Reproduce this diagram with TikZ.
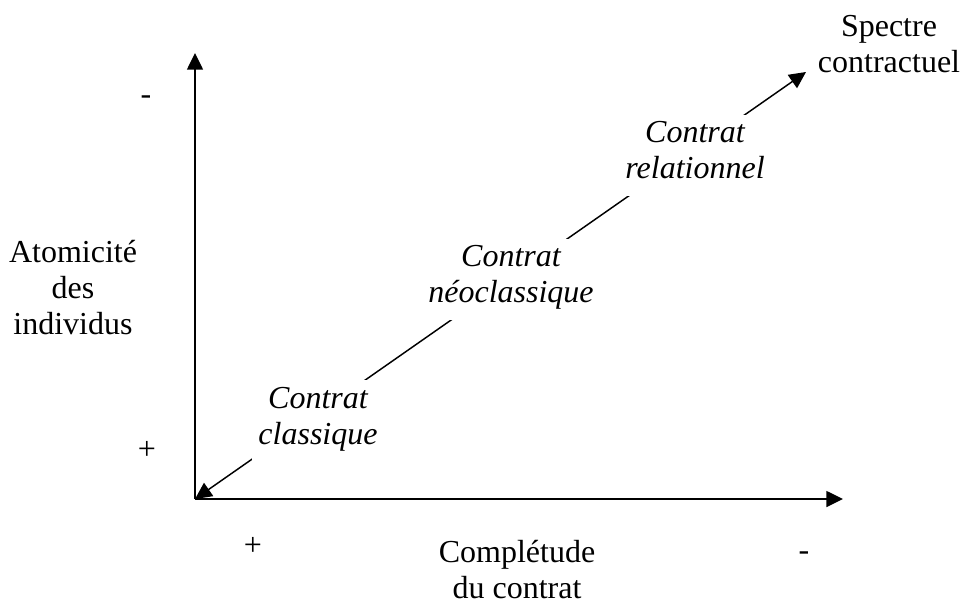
\documentclass[tikz,border=0pt]{standalone}
\usepackage{fontspec}
\setmainfont{Liberation Serif}
\usetikzlibrary{arrows.meta}

\tikzset{every picture/.style={line width=0.75pt}}
\tikzset{
  tip/.tip={Triangle[length=12.5pt,width=12pt]},
  axis/.style={line width=1.1pt,-tip},
  txt/.style={inner sep=0pt,align=center,font=\fontsize{24}{27}\selectfont},
  stage/.style={txt,font=\fontsize{24}{27}\selectfont\itshape,fill=white,inner sep=5pt}
}

\begin{document}
\begin{tikzpicture}[x=0.75pt,y=0.75pt,yscale=-1,xscale=1]
\useasboundingbox (0,0) rectangle (962,606);

%Coordinates [origin and arrow tips]
\coordinate (O) at (195,499);
\coordinate (ytip) at (195,53);
\coordinate (xtip) at (843,499);
\coordinate (stip) at (806,72);

%Straight Lines [axes]
\draw [axis] (O) -- (ytip);
\draw [axis] (O) -- (xtip);
%Straight Lines [spectre]
\draw [axis,tip-tip] (O) -- (stip);

% Text Node
\node [stage] (classique) at (318,421) {Contrat\\classique\strut};
% Text Node
\node [stage] (neoclassique) at (511,279.5) {Contrat\\néoclassique\strut};
% Text Node
\node [stage] (relationnel) at (695,155.5) {Contrat\\relationnel\strut};

% Text Node
\node [txt] (atomicite) at (73,288) {Atomicité\\des\\individus};
% Text Node
\node [txt] (completude) at (517,570) {Complétude\\du contrat};
% Text Node
\node [txt] (spectre) at (889,44) {Spectre\\contractuel};

% Text Node
\node [txt] (ymoins) at (146,100) {-};
% Text Node
\node [txt] (yplus) at (147,450) {+};
% Text Node
\node [txt] (xplus) at (253,546) {+};
% Text Node
\node [txt] (xmoins) at (804,556) {-};

\end{tikzpicture}
\end{document}
